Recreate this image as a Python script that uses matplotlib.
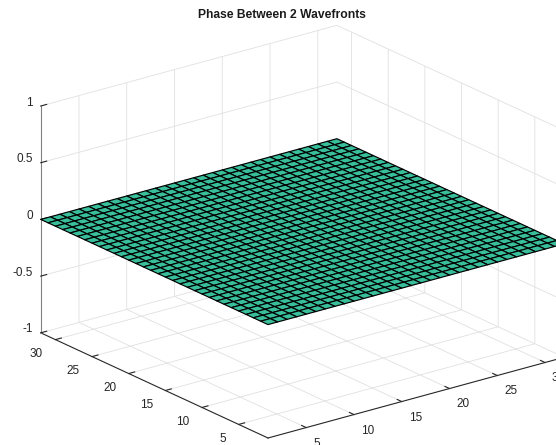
import matplotlib
matplotlib.use("Agg")
import matplotlib.pyplot as plt
import numpy as np
from mpl_toolkits.mplot3d import proj3d

plt.rcParams["font.family"] = ["Liberation Sans", "DejaVu Sans"]
plt.rcParams["axes.unicode_minus"] = False

# data: phase difference on a 32x32 grid (flat)
x_vals = np.arange(1, 33)
y_vals = np.arange(1, 33)
phase = np.zeros((32, 32))

xy_ticks = [5, 10, 15, 20, 25, 30]
xy_tick_labels = ["5", "10", "15", "20", "25", "30"]
z_ticks = [-1, -0.5, 0, 0.5, 1]
z_tick_labels = ["-1", "-0.5", "0", "0.5", "1"]

W, H = 556, 445
fig = plt.figure(figsize=(W / 100, H / 100), dpi=100)
ax = fig.add_axes([0, 0, 1, 1], projection="3d", proj_type="ortho")
ax.view_init(elev=20.8, azim=-127.5)
ax.set_box_aspect((1, 1, 0.65))

X, Y = np.meshgrid(x_vals, y_vals)
surf = ax.plot_surface(X, Y, phase, color="#38BE9A", edgecolor="black",
                       linewidth=0.85, shade=False, rstride=1, cstride=1,
                       antialiased=True)
surf.set_clip_on(False)

ax.set_xlim(x_vals[0], x_vals[-1])
ax.set_ylim(y_vals[0], y_vals[-1])
ax.set_zlim(-1, 1)
ax.set_xticks(xy_ticks, xy_tick_labels, ha="left")
ax.set_yticks(xy_ticks, xy_tick_labels, ha="right", va="center_baseline")
ax.set_zticks(z_ticks, z_tick_labels, ha="right", va="baseline")
ax.tick_params(labelsize=8.5, colors="#262626")
ax.tick_params(axis="x", pad=-3)
ax.tick_params(axis="y", pad=-1)
ax.tick_params(axis="z", pad=-5.5)

for axis in (ax.xaxis, ax.yaxis, ax.zaxis):
    axis.set_pane_color((1, 1, 1, 1))
    axis.pane.set_edgecolor("white")
    axis._axinfo["grid"]["color"] = (0.88, 0.88, 0.88, 1)
    axis._axinfo["grid"]["linewidth"] = 0.6
    axis._axinfo["tick"]["inward_factor"] = 0.0
    axis._axinfo["tick"]["outward_factor"] = 0.25
    axis.line.set_color("#262626")
    axis.line.set_linewidth(0.8)
ax.zaxis.line.set_color("#808080")


def to_px(pt):
    xs, ys, _ = proj3d.proj_transform(*pt, ax.M)
    return np.array(ax.transData.transform((xs, ys)))


# fit the box so that its corners land where the reference has them
fig.canvas.draw()
front = (x_vals[0], y_vals[0], -1)
back_top = (x_vals[-1], y_vals[-1], 1)
want_front = np.array([268, H - 438])
want_back = np.array([335, H - 25])
d_now = np.linalg.norm(to_px(back_top) - to_px(front))
d_want = np.linalg.norm(want_back - want_front)
ax.set_box_aspect((1, 1, 0.65), zoom=d_want / d_now)
fig.canvas.draw()
shift = want_front - to_px(front)
pos = ax.get_position()
ax.set_position([pos.x0 + shift[0] / W, pos.y0 + shift[1] / H,
                 pos.width, pos.height])

fig.text(0.507, 1 - 15 / H, "Phase Between 2 Wavefronts",
         ha="center", va="center", fontsize=8.75, fontweight="bold",
         color="#1a1a1a")

fig.savefig("out.png", dpi=100)
